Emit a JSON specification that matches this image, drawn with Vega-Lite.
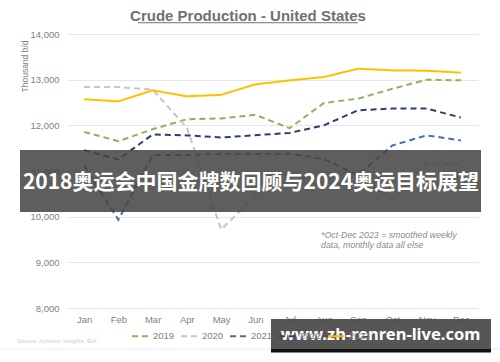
{
  "$schema": "https://vega.github.io/schema/vega-lite/v6.json",
  "width": 411,
  "height": 274,
  "autosize": {"type": "none"},
  "padding": {"left": 67, "top": 34, "right": 22, "bottom": 54},
  "background": "white",
  "config": {
    "view": {"stroke": null},
    "font": "Liberation Sans",
    "legend": {"orient": "none", "legendX": 64, "legendY": 293, "direction": "horizontal", "title": null, "symbolType": "stroke", "symbolSize": 256, "symbolStrokeWidth": 2, "labelFontSize": 9.5, "labelColor": "#7f7f7f", "labelFont": "Liberation Sans", "columnPadding": 2, "labelOffset": 4}
  },
  "resolve": {"axis": {"x": "independent", "y": "independent"}},
  "layer": [
    {
      "data": {"values": [{}]},
      "mark": {"type": "rule", "color": "#ececf3", "strokeWidth": 1},
      "encoding": {
        "x": {"datum": -1.46, "type": "quantitative", "scale": {"domain": [0.5, 12.5], "nice": false, "zero": false}, "axis": null},
        "x2": {"datum": 13.15},
        "y": {"datum": 7102, "type": "quantitative", "scale": {"domain": [8000, 14000], "nice": false, "zero": false}, "axis": null}
      }
    },
    {
      "data": {"values": [
        {"year": "2019", "month": 1, "value": 11856}, {"year": "2019", "month": 2, "value": 11653}, {"year": "2019", "month": 3, "value": 11915}, {"year": "2019", "month": 4, "value": 12133}, {"year": "2019", "month": 5, "value": 12150}, {"year": "2019", "month": 6, "value": 12230}, {"year": "2019", "month": 7, "value": 11937}, {"year": "2019", "month": 8, "value": 12490}, {"year": "2019", "month": 9, "value": 12585}, {"year": "2019", "month": 10, "value": 12800}, {"year": "2019", "month": 11, "value": 13000}, {"year": "2019", "month": 12, "value": 12985},
        {"year": "2020", "month": 1, "value": 12840}, {"year": "2020", "month": 2, "value": 12840}, {"year": "2020", "month": 3, "value": 12780}, {"year": "2020", "month": 4, "value": 11950}, {"year": "2020", "month": 5, "value": 9720}, {"year": "2020", "month": 6, "value": 10450}, {"year": "2020", "month": 7, "value": 11000}, {"year": "2020", "month": 8, "value": 10600}, {"year": "2020", "month": 9, "value": 10900}, {"year": "2020", "month": 10, "value": 10380}, {"year": "2020", "month": 11, "value": 11150}, {"year": "2020", "month": 12, "value": 11150},
        {"year": "2021", "month": 1, "value": 11120}, {"year": "2021", "month": 2, "value": 9930}, {"year": "2021", "month": 3, "value": 11350}, {"year": "2021", "month": 4, "value": 11350}, {"year": "2021", "month": 5, "value": 11380}, {"year": "2021", "month": 6, "value": 11380}, {"year": "2021", "month": 7, "value": 11380}, {"year": "2021", "month": 8, "value": 11260}, {"year": "2021", "month": 9, "value": 10910}, {"year": "2021", "month": 10, "value": 11560}, {"year": "2021", "month": 11, "value": 11780}, {"year": "2021", "month": 12, "value": 11670},
        {"year": "2022", "month": 1, "value": 11456}, {"year": "2022", "month": 2, "value": 11253}, {"year": "2022", "month": 3, "value": 11800}, {"year": "2022", "month": 4, "value": 11780}, {"year": "2022", "month": 5, "value": 11733}, {"year": "2022", "month": 6, "value": 11784}, {"year": "2022", "month": 7, "value": 11834}, {"year": "2022", "month": 8, "value": 12000}, {"year": "2022", "month": 9, "value": 12330}, {"year": "2022", "month": 10, "value": 12367}, {"year": "2022", "month": 11, "value": 12367}, {"year": "2022", "month": 12, "value": 12170},
        {"year": "2023", "month": 1, "value": 12570}, {"year": "2023", "month": 2, "value": 12526}, {"year": "2023", "month": 3, "value": 12766}, {"year": "2023", "month": 4, "value": 12635}, {"year": "2023", "month": 5, "value": 12668}, {"year": "2023", "month": 6, "value": 12897}, {"year": "2023", "month": 7, "value": 12985}, {"year": "2023", "month": 8, "value": 13057}, {"year": "2023", "month": 9, "value": 13240}, {"year": "2023", "month": 10, "value": 13203}, {"year": "2023", "month": 11, "value": 13196}, {"year": "2023", "month": 12, "value": 13153}
      ]},
      "mark": {"type": "line", "strokeWidth": 2, "strokeCap": "butt"},
      "encoding": {
        "x": {"field": "month", "type": "quantitative", "scale": {"domain": [0.5, 12.5], "nice": false, "zero": false},
          "axis": {"title": null, "values": [1,2,3,4,5,6,7,8,9,10,11,12], "labelExpr": "['Jan','Feb','Mar','Apr','May','Jun','Jul','Aug','Sep','Oct','Nov','Dec'][datum.value-1]", "grid": false, "domain": false, "ticks": false, "labelFontSize": 9.5, "labelColor": "#7f7f7f", "labelPadding": 6, "labelFlush": false}},
        "y": {"field": "value", "type": "quantitative", "scale": {"domain": [8000, 14000], "nice": false, "zero": false},
          "axis": {"title": "Thousand b/d", "titleFontSize": 8.5, "titleFontWeight": "normal", "titleColor": "#7f7f7f", "titleAnchor": "end", "titleY": 6, "titlePadding": 0, "values": [8000,9000,10000,11000,12000,13000,14000], "labelExpr": "format(datum.value, ',.0f')", "grid": true, "gridColor": "#e3e8ef", "domain": false, "ticks": false, "labelFontSize": 9.5, "labelColor": "#7f7f7f", "labelPadding": 8}},
        "color": {"field": "year", "type": "nominal", "scale": {"domain": ["2019","2020","2021","2022","2023"], "range": ["#8db356", "#c6c6c6", "#4a6db5", "#27406b", "#ffc000"]}},
        "strokeDash": {"field": "year", "type": "nominal", "scale": {"domain": ["2019","2020","2021","2022","2023"], "range": [[6,4],[6,4],[6,4],[6,4],[1,0]]}},
        "detail": {"field": "year"}
      }
    },
    {
      "data": {"values": [{"t": "Crude Production - United States"}]},
      "mark": {"type": "text", "align": "center", "baseline": "alphabetic", "fontSize": 15, "fontWeight": "bold", "color": "#707070"},
      "encoding": {
        "x": {"datum": 5.785, "type": "quantitative", "axis": null},
        "y": {"datum": 14285, "type": "quantitative", "axis": null},
        "text": {"field": "t"}
      }
    },
    {
      "data": {"values": [{"note": ["*Oct-Dec 2023 = smoothed weekly", "data, monthly data all else"]}]},
      "mark": {"type": "text", "align": "left", "baseline": "top", "fontSize": 8.8, "fontStyle": "italic", "color": "#8a8a8a", "lineHeight": 10.5},
      "encoding": {
        "x": {"datum": 7.916, "type": "quantitative", "axis": null},
        "y": {"datum": 9697, "type": "quantitative", "axis": null},
        "text": {"field": "note"}
      }
    },
    {
      "data": {"values": [{"src": "Source: Acheron Insights, EIA"}]},
      "mark": {"type": "text", "align": "left", "baseline": "middle", "fontSize": 6, "color": "#cfcfcf"},
      "encoding": {
        "x": {"datum": -0.96, "type": "quantitative", "axis": null},
        "y": {"datum": 7277, "type": "quantitative", "axis": null},
        "text": {"field": "src"}
      }
    },
    {
      "data": {"values": [{}]},
      "mark": {"type": "rule", "color": "#707070", "strokeWidth": 1},
      "encoding": {
        "x": {"datum": 2.573, "type": "quantitative", "axis": null},
        "x2": {"datum": 8.996},
        "y": {"datum": 14247, "type": "quantitative", "axis": null}
      }
    },
    {
      "data": {"values": [{}]},
      "mark": {"type": "rect", "color": "#444444", "opacity": 0.86},
      "encoding": {
        "x": {"datum": -0.872, "type": "quantitative", "axis": null},
        "x2": {"datum": 12.588},
        "y": {"datum": 11460, "type": "quantitative", "axis": null},
        "y2": {"datum": 10102}
      }
    },
    {
      "data": {"values": [{"banner": "2018奥运会中国金牌数回顾与2024奥运目标展望"}]},
      "mark": {"type": "text", "align": "center", "baseline": "middle", "fontSize": 21, "fontWeight": "bold", "font": "Noto Sans CJK SC", "color": "white"},
      "encoding": {
        "x": {"datum": 5.872, "type": "quantitative", "axis": null},
        "y": {"datum": 10737, "type": "quantitative", "axis": null},
        "text": {"field": "banner"}
      }
    },
    {
      "data": {"values": [{}]},
      "mark": {"type": "rect", "color": "#4d4d4d", "opacity": 0.95},
      "encoding": {
        "x": {"datum": 6.456, "type": "quantitative", "axis": null},
        "x2": {"datum": 12.88},
        "y": {"datum": 7759, "type": "quantitative", "axis": null},
        "y2": {"datum": 7102}
      }
    },
    {
      "data": {"values": [{}]},
      "mark": {"type": "rect", "color": "#111111"},
      "encoding": {
        "x": {"datum": 6.456, "type": "quantitative", "axis": null},
        "x2": {"datum": 12.88},
        "y": {"datum": 7102, "type": "quantitative", "axis": null},
        "y2": {"datum": 7026}
      }
    },
    {
      "data": {"values": [{"mark": "www.zh-renren-live.com"}]},
      "mark": {"type": "text", "align": "center", "baseline": "middle", "fontSize": 16.5, "fontWeight": "bold", "font": "Noto Sans", "color": "white"},
      "encoding": {
        "x": {"datum": 9.653, "type": "quantitative", "axis": null},
        "y": {"datum": 7398, "type": "quantitative", "axis": null},
        "text": {"field": "mark"}
      }
    }
  ]
}
